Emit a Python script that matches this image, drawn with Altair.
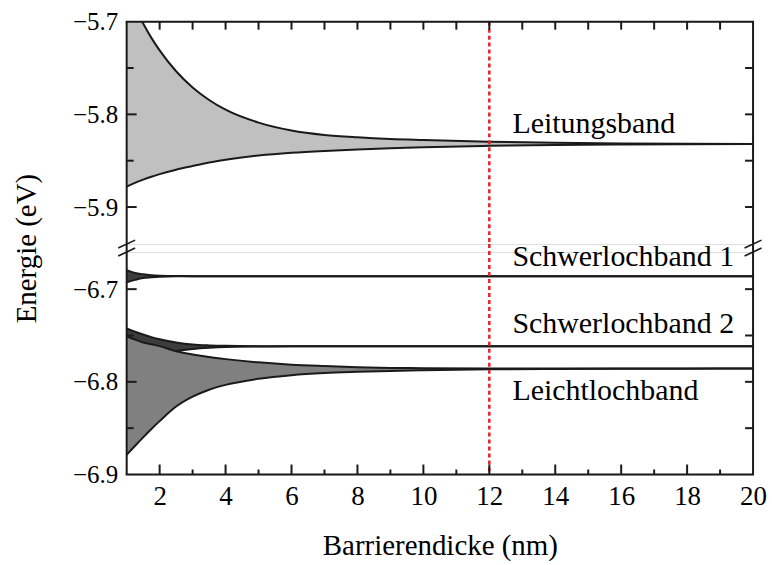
import altair as alt
import pandas as pd

FONT = "'Liberation Serif', 'Times New Roman', Times, serif"
INK = "#1a1a1a"

# Barrier thickness grid (nm)
x_nm = [1, 1.25, 1.5, 1.75, 2, 2.5, 3, 3.5, 4, 5, 6, 7, 8, 9, 10, 12, 14, 16, 18, 20]

# Leitungsband: upper / lower miniband edge (eV)
lb_upper = [-5.665, -5.685, -5.702, -5.7175, -5.731, -5.7535, -5.771, -5.7845, -5.795, -5.8089,
            -5.8174, -5.8222, -5.8248, -5.8266, -5.8277, -5.8295, -5.8307, -5.8314, -5.8318, -5.832]
lb_lower = [-5.878, -5.874, -5.8705, -5.8673, -5.8645, -5.8597, -5.8558, -5.852, -5.849, -5.8445,
            -5.8415, -5.8395, -5.838, -5.8367, -5.8355, -5.834, -5.833, -5.8325, -5.8322, -5.832]

# Schwerlochband 1
hh1_upper = [-6.6795, -6.6825, -6.684, -6.685, -6.6855, -6.6858, -6.686, -6.686, -6.686, -6.686,
             -6.686, -6.686, -6.686, -6.686, -6.686, -6.686, -6.686, -6.686, -6.686, -6.686]
hh1_lower = [-6.6925, -6.690, -6.688, -6.6872, -6.6866, -6.6861, -6.686, -6.686, -6.686, -6.686,
             -6.686, -6.686, -6.686, -6.686, -6.686, -6.686, -6.686, -6.686, -6.686, -6.686]

# Schwerlochband 2
hh2_upper = [-6.7425, -6.746, -6.749, -6.7518, -6.754, -6.7575, -6.7597, -6.7607, -6.7612, -6.7615,
             -6.7617, -6.7617, -6.7617, -6.7617, -6.7617, -6.7617, -6.7617, -6.7617, -6.7617, -6.7617]
hh2_lower = [-6.778, -6.776, -6.774, -6.772, -6.770, -6.7667, -6.7645, -6.7632, -6.7624, -6.7619,
             -6.7617, -6.7617, -6.7617, -6.7617, -6.7617, -6.7617, -6.7617, -6.7617, -6.7617, -6.7617]

# Leichtlochband
lh_upper = [-6.7508, -6.7545, -6.7575, -6.7595, -6.7615, -6.767, -6.7705, -6.7733, -6.7755, -6.779,
            -6.7815, -6.783, -6.7842, -6.785, -6.7853, -6.7856, -6.7857, -6.7857, -6.7857, -6.7857]
lh_lower = [-6.8787, -6.8692, -6.8599, -6.8509, -6.8424, -6.8267, -6.816, -6.8085, -6.8033, -6.7967,
            -6.7928, -6.7905, -6.7892, -6.7882, -6.7874, -6.7865, -6.7861, -6.7859, -6.7858, -6.7857]

# Band labels
top_labels = ["Leitungsband"]
top_label_x = [12.7]
top_label_y = [-5.8206]
bot_labels = ["Schwerlochband 1", "Schwerlochband 2", "Leichtlochband"]
bot_label_x = [12.7, 12.7, 12.7]
bot_label_y = [-6.6751, -6.7469, -6.8193]

# Marked barrier thickness
marker_x = [12]

# Axis ticks
x_label_values = [2, 4, 6, 8, 10, 12, 14, 16, 18, 20]
x_even_ticks = [2, 4, 6, 8, 10, 12, 14, 16, 18]
x_odd_ticks = [3, 5, 7, 9, 11, 13, 15, 17, 19]
x_all_ticks = list(range(2, 20))
top_major = [-5.9, -5.8]
top_minor = [-5.85, -5.75]
bot_major = [-6.8, -6.7]
bot_minor = [-6.85, -6.75]

W = 628
H = 223
GAP = 8

xscale = alt.Scale(domain=[1, 20], nice=False, zero=False)
yscale_top = alt.Scale(domain=[-5.94, -5.70], nice=False, zero=False)
yscale_bot = alt.Scale(domain=[-6.90, -6.66], nice=False, zero=False)

x_axis_bottom = alt.Axis(
    values=x_label_values, format="d", ticks=False, domain=False, grid=False,
    labelFont=FONT, labelFontSize=27, labelColor="black", labelPadding=9,
    labelFlush=False, labelOverlap=False,
    title="Barrierendicke (nm)", titleFont=FONT, titleFontSize=29,
    titleFontWeight="normal", titleColor="black", titlePadding=22,
)
y_axis_top = alt.Axis(
    values=[-5.9, -5.8, -5.7], format=".1f", ticks=False, domain=False, grid=False,
    labelFont=FONT, labelFontSize=25, labelColor="black", labelPadding=9,
    labelOverlap=False, title=None,
)
y_axis_bot = alt.Axis(
    values=[-6.9, -6.8, -6.7], format=".1f", ticks=False, domain=False, grid=False,
    labelFont=FONT, labelFontSize=25, labelColor="black", labelPadding=9,
    labelOverlap=False,
    title="Energie (eV)", titleFont=FONT, titleFontSize=29, titleFontWeight="normal",
    titleColor="black", titleAngle=270, titleAlign="center", titleBaseline="middle",
    titleX=-100, titleY=-4,
)


def one_row():
    return pd.DataFrame({"k": [0]})


def panel(bands, labels, yscale, y_axis, x_axis, major, minor, x_ticks_top, is_bottom):
    X = lambda f: alt.X(f, type="quantitative", scale=xscale, axis=x_axis)
    Y = lambda f: alt.Y(f, type="quantitative", scale=yscale, axis=y_axis)

    layers = []
    for up, lo, fill in bands:
        df = pd.DataFrame({"x": x_nm, "up": up, "lo": lo})
        base = alt.Chart(df)
        layers.append(base.mark_area(color=fill, clip=True, interpolate="monotone",
                                     opacity=1).encode(x=X("x"), y=Y("up"), y2="lo"))
        layers.append(base.mark_line(color=INK, strokeWidth=2, clip=True,
                                     interpolate="monotone").encode(x=X("x"), y=Y("up")))
        layers.append(base.mark_line(color=INK, strokeWidth=2, clip=True,
                                     interpolate="monotone").encode(x=X("x"), y=Y("lo")))

    ytop = -GAP if is_bottom else 0

    # dashed marker line
    layers.append(
        alt.Chart(pd.DataFrame({"x": marker_x})).mark_rule(
            color="#e8202a", strokeWidth=2.5, strokeDash=[4, 3]
        ).encode(x=X("x"), y=alt.value(ytop), y2=alt.value(H))
    )

    # band labels
    txt, tx, ty = labels
    layers.append(
        alt.Chart(pd.DataFrame({"x": tx, "y": ty, "t": txt})).mark_text(
            align="left", baseline="alphabetic", font=FONT, fontSize=30, color="black"
        ).encode(x=X("x"), y=Y("y"), text="t:N")
    )

    # inward ticks on left and right
    for vals, ln in ((major, 10), (minor, 7)):
        d = alt.Chart(pd.DataFrame({"v": vals}))
        layers.append(d.mark_rule(color=INK, strokeWidth=2).encode(
            y=Y("v"), x=alt.value(0), x2=alt.value(ln)))
        layers.append(d.mark_rule(color=INK, strokeWidth=2).encode(
            y=Y("v"), x=alt.value(W - 8), x2=alt.value(W)))

    # inward ticks on top / bottom edge
    if is_bottom:
        for vals, ln in ((x_even_ticks, 10), (x_odd_ticks, 5)):
            layers.append(alt.Chart(pd.DataFrame({"v": vals})).mark_rule(
                color=INK, strokeWidth=2).encode(
                x=X("v"), y=alt.value(H - ln), y2=alt.value(H)))
    else:
        layers.append(alt.Chart(pd.DataFrame({"v": x_ticks_top})).mark_rule(
            color=INK, strokeWidth=2).encode(
            x=X("v"), y=alt.value(0), y2=alt.value(8)))

    # frame
    r = alt.Chart(one_row())
    layers.append(r.mark_rule(color=INK, strokeWidth=2).encode(
        x=alt.value(0), y=alt.value(ytop), y2=alt.value(H)))
    layers.append(r.mark_rule(color=INK, strokeWidth=2).encode(
        x=alt.value(W), y=alt.value(ytop), y2=alt.value(H)))
    if is_bottom:
        layers.append(r.mark_rule(color=INK, strokeWidth=2).encode(
            x=alt.value(-1), x2=alt.value(W + 1), y=alt.value(H)))
        # axis break marks
        for cx in (0, W):
            for cy in (-GAP, 0):
                layers.append(r.mark_rule(color=INK, strokeWidth=1.6).encode(
                    x=alt.value(cx - 8.5), x2=alt.value(cx + 8.5),
                    y=alt.value(cy + 4), y2=alt.value(cy - 4)))
    else:
        layers.append(r.mark_rule(color=INK, strokeWidth=2).encode(
            x=alt.value(-1), x2=alt.value(W + 1), y=alt.value(0)))

    return alt.layer(*layers).properties(width=W, height=H)


top = panel(
    [(lb_upper, lb_lower, "#c0c0c0")],
    (top_labels, top_label_x, top_label_y),
    yscale_top, y_axis_top, None, top_major, top_minor, x_all_ticks, False,
)
bottom = panel(
    [(hh1_upper, hh1_lower, "#3c3c3c"),
     (hh2_upper, hh2_lower, "#3c3c3c"),
     (lh_upper, lh_lower, "#808080")],
    (bot_labels, bot_label_x, bot_label_y),
    yscale_bot, y_axis_bot, x_axis_bottom, bot_major, bot_minor, x_all_ticks, True,
)

chart = alt.vconcat(top, bottom, spacing=GAP, bounds="flush").properties(
    padding={"left": 12, "top": 8, "right": 5, "bottom": 2}
).configure_view(stroke="#dcdcdc", strokeWidth=1).configure(background="white")

chart.save("out.html", embed_options={"renderer": "svg", "actions": False})
